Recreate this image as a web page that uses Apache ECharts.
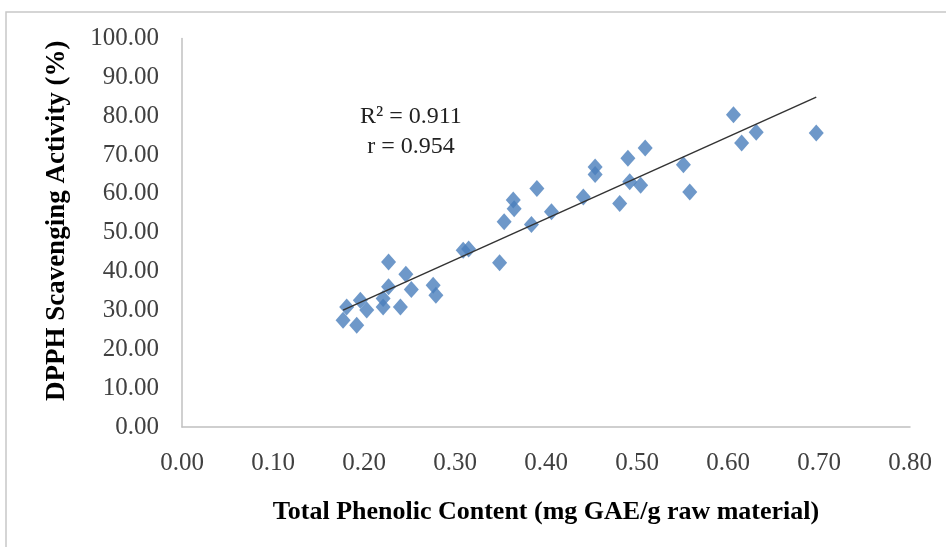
<!DOCTYPE html>
<html>
<head>
<meta charset="utf-8">
<script src="https://cdn.jsdelivr.net/npm/echarts@6/dist/echarts.min.js"></script>
<style>html,body{margin:0;padding:0;background:#fff}#c{width:946px;height:547px}</style>
</head>
<body>
<div id="c"></div>
<script>
var tpcValues = [0.227,0.246,0.227,0.252,0.276,0.279,0.196,0.181,0.177,0.192,0.203,0.221,0.240,0.221,
  0.309,0.315,0.349,0.354,0.364,0.365,0.384,0.390,0.406,
  0.441,0.454,0.454,0.481,0.490,0.492,0.504,0.509,0.551,0.558,
  0.606,0.615,0.631,0.697];
var dpphValues = [42.5,39.3,36.1,35.4,36.5,33.9,32.6,30.9,27.5,26.2,30.1,30.9,30.9,33.1,
  45.5,45.8,42.3,52.8,58.4,56.2,52.1,61.4,55.4,
  59.2,66.9,65.0,57.5,69.2,63.1,62.2,71.8,67.5,60.5,
  80.4,73.1,75.9,75.7];
var xTicks = ['0.00','0.10','0.20','0.30','0.40','0.50','0.60','0.70','0.80'];
var yTicks = ['0.00','10.00','20.00','30.00','40.00','50.00','60.00','70.00','80.00','90.00','100.00'];
var xTitle = 'Total Phenolic Content (mg GAE/g raw material)';
var yTitle = 'DPPH Scavenging Activity (%)';
var statLines = ['R\u00B2 = 0.911', 'r = 0.954'];

var pts = tpcValues.map(function(x,i){return [x, dpphValues[i]];});
// least squares trend line
var n = pts.length, sx=0, sy=0, sxx=0, sxy=0;
pts.forEach(function(p){sx+=p[0];sy+=p[1];sxx+=p[0]*p[0];sxy+=p[0]*p[1];});
var slope = (n*sxy - sx*sy)/(n*sxx - sx*sx);
var icpt = (sy - slope*sx)/n;
var xmin = Math.min.apply(null,tpcValues), xmax = Math.max.apply(null,tpcValues);
var trend = [[xmin, icpt+slope*xmin],[xmax, icpt+slope*xmax]];

var chart = echarts.init(document.getElementById('c'));
var font = '"Liberation Serif","Times New Roman",serif';
chart.setOption({
  animation:false,
  backgroundColor:'#fff',
  grid:{left:182,right:36,top:38.5,bottom:120},
  xAxis:{type:'value',min:0,max:0.8,interval:0.1,
    axisLine:{lineStyle:{color:'#c0c0c0',width:1.5}},
    axisTick:{show:false},splitLine:{show:false},
    axisLabel:{color:'#404040',fontFamily:font,fontSize:25,margin:24,
      formatter:function(v){return xTicks[Math.round(v*10)];}},
    name:xTitle,nameLocation:'middle',nameGap:72,
    nameTextStyle:{color:'#000',fontFamily:font,fontSize:26,fontWeight:'bold'}},
  yAxis:{type:'value',min:0,max:100,interval:10,
    axisLine:{show:true,lineStyle:{color:'#c0c0c0',width:1.5}},
    axisTick:{show:false},splitLine:{show:false},
    axisLabel:{color:'#404040',fontFamily:font,fontSize:25,margin:23,
      formatter:function(v){return yTicks[Math.round(v/10)];}},
    name:yTitle,nameLocation:'middle',nameGap:111,
    nameTextStyle:{color:'#000',fontFamily:font,fontSize:27,fontWeight:'bold',padding:[0,0,0,24]}},
  graphic:[
    {type:'rect',shape:{x:6,y:12,width:960,height:560},style:{fill:'none',stroke:'#c8c8c8',lineWidth:1.5},silent:true},
    {type:'text',left:360,top:102,style:{text:statLines.join('\n'),font:'24px '+font,fill:'#222',textAlign:'center',lineHeight:30},z:10}
  ],
  series:[
    {type:'scatter',data:pts,symbol:'diamond',symbolSize:[15,17],itemStyle:{color:'#4A7EBB'},z:2},
    {type:'line',data:trend,symbol:'none',lineStyle:{color:'#333',width:1.5},z:3}
  ]
});
</script>
</body>
</html>
